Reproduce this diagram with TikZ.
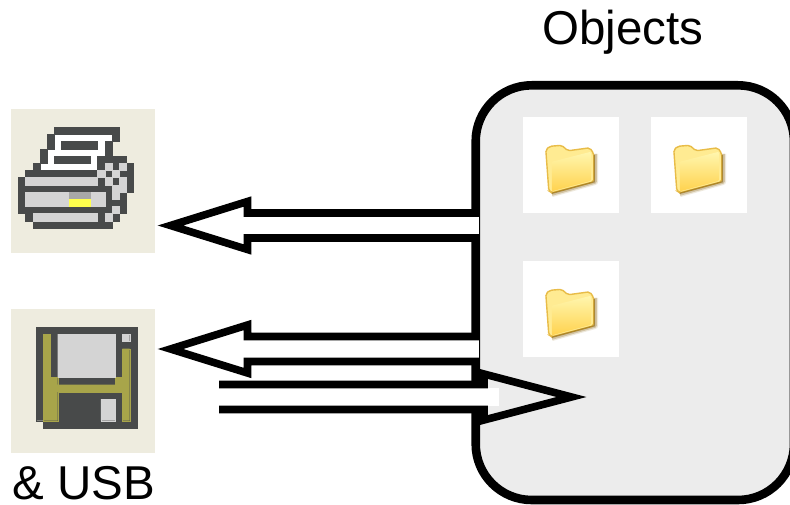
\documentclass[tikz,border=0pt]{standalone}
\usepackage{fontspec}
\setmainfont{Liberation Sans}
\usepackage{xcolor}
\usetikzlibrary{calc}

\definecolor{pxbg}{HTML}{EEECDF}
\definecolor{pxdark}{HTML}{484A4A}
\definecolor{pxlight}{HTML}{D4D4D4}
\definecolor{pxgray}{HTML}{A8A8A8}
\definecolor{pxyellow}{HTML}{FFFF4D}
\definecolor{pxolive}{HTML}{A8A54A}
\definecolor{boxgray}{HTML}{ECECEC}
\definecolor{foldertop}{HTML}{FFF6AE}
\definecolor{folderlow}{HTML}{FFD24E}
\definecolor{folderback}{HTML}{FFEB92}
\definecolor{folderedge}{HTML}{E8BC48}
\definecolor{foldershade}{HTML}{8A6410}

\tikzset{
    px/.style={fill=#1, draw=#1, line width=0.15pt},
    folder/.pic={
        % soft shadow first, then the back and the front of the folder
        \draw[foldershade, opacity=0.14, line width=6.5pt, line join=round] (29,77) -- (72,65) -- (72,37);
        \draw[foldershade, opacity=0.28, line width=4pt, line join=round] (29,77) -- (72,65) -- (72,37);
        \filldraw[fill=folderback, draw=folderedge, line width=1.4pt, rounded corners=2pt]
            (23,33) -- (27,29.5) -- (39,28.5) -- (45,34) -- (67,31) -- (71,37) -- (71,65) -- (29,76) -- (26,74) -- cycle;
        \shade[top color=foldertop, bottom color=folderlow, rounded corners=1pt]
            (29,45) -- (68,35) -- (68,64) -- (29,74.5) -- cycle;
        \draw[foldershade, opacity=0.6, line width=1.4pt] (29,76.5) -- (71.5,65) -- (71.5,38);
    }
}

\newcommand{\hollowarrow}[4]{%
    \coordinate (back) at ($(#2)!#3!(#1)$);
    \coordinate (over) at ($(back)!-15pt!(#1)$);
    \fill[white] ($(#1)!9pt!90:(#2)$) -- ($(over)!9pt!90:(#2)$) -- ($(over)!9pt!-90:(#2)$) -- ($(#1)!9pt!-90:(#2)$) -- cycle;
    \draw[line width=7.6pt] ($(#1)!12.5pt!90:(#2)$) -- ($(back)!12.5pt!90:(#2)$) -- ($(back)!#4!90:(#2)$)
        -- (#2) -- ($(back)!#4!-90:(#2)$) -- ($(back)!12.5pt!-90:(#2)$) -- ($(#1)!12.5pt!-90:(#2)$);
}

\begin{document}
\begin{tikzpicture}[
    x=1pt, y=-1pt,
    objectbox/.style={rectangle, draw, line width=8.6pt, fill=boxgray, rounded corners=56pt, minimum width=318.3pt, minimum height=414.7pt},
    tile/.style={rectangle, fill=white, minimum size=96pt, inner sep=0pt},
    icon/.style={rectangle, fill=pxbg, minimum size=144pt, inner sep=0pt},
    caption/.style={inner sep=0pt, font=\fontsize{47.5}{50}\selectfont}
]
    \useasboundingbox (0,0) rectangle (790,505);

    \node [objectbox] (objects) at (634.85,292.65) {};
    \node [tile] (tilea) at (571,165) {};
    \node [tile, right of=tilea, node distance=128pt] (tileb) {};
    \node [tile, below of=tilea, node distance=144pt] (tilec) {};
    \pic at (tilea.north west) {folder};
    \pic at (tileb.north west) {folder};
    \pic at (tilec.north west) {folder};

    \node [icon] (printer) at (83,181) {};
    \node [icon, below of=printer, node distance=200pt] (floppy) {};

    \node [caption, anchor=base] (title) at (623,45) {Objects};
    \node [caption, anchor=base west] (usb) at (12,499) {\& USB};

    % printer, one icon pixel is 7.2 wide
    \begin{scope}[shift={(11,127)}, x=7.2pt, y=-7.2pt]
        \fill[px=white] (5,1) rectangle (14,4) (5,4) rectangle (12,5) (4,5) rectangle (12,6);
        \foreach \a/\r/\b in {6/0/15, 5/1/6, 14/1/15, 5/2/6, 7/2/12, 13/2/14, 4/3/5, 13/3/14, 4/4/5, 6/4/11, 12/4/16,
            3/5/4, 12/5/13, 14/5/15, 16/5/17, 2/6/12, 13/6/14, 15/6/17, 1/7/2, 12/7/13, 14/7/15, 16/7/17,
            1/8/14, 16/8/17, 1/9/2, 13/9/14, 15/9/16, 1/10/2, 13/10/16, 1/11/14, 15/11/16, 2/12/3, 12/12/13, 14/12/15, 3/13/14}
            \fill[px=pxdark] (\a,\r) rectangle (\b,\r+1);
        \foreach \a/\r/\b in {13/5/14, 15/5/16, 12/6/13, 14/6/15, 2/7/12, 13/7/14, 15/7/16, 14/8/16,
            2/9/8, 11/9/13, 14/9/15, 2/10/8, 11/10/13, 14/11/15, 3/12/12, 13/12/14}
            \fill[px=pxlight] (\a,\r) rectangle (\b,\r+1);
        \fill[px=pxgray] (8,9) rectangle (11,10);
        \fill[px=pxyellow] (8,10) rectangle (11,11);
    \end{scope}

    % floppy
    \begin{scope}[shift={(36,327)}, x=7.2pt, y=-7.2pt]
        \fill[px=pxdark] (0,0) rectangle (14,13) (1,13) rectangle (14,14);
        \fill[px=pxolive] (1,1) rectangle (2,7) (1,7) rectangle (3,13) (3,8) rectangle (11,9) (11,7) rectangle (12,9) (12,3) rectangle (13,13);
        \fill[px=pxlight] (3,1) rectangle (11,7) (12,1) rectangle (13,2) (9,10) rectangle (11,13);
    \end{scope}

    \coordinate (printerin) at (170.5,225.5);
    \coordinate (printerout) at (479,225.5);
    \coordinate (floppyin) at (170.5,349);
    \coordinate (floppyout) at (479,349);
    \coordinate (floppyread) at (219,397);
    \coordinate (objectsin) at (571.5,397);

    \hollowarrow{printerout}{printerin}{77pt}{24pt}
    \hollowarrow{floppyout}{floppyin}{77pt}{24pt}
    \hollowarrow{floppyread}{objectsin}{87.5pt}{23pt}
\end{tikzpicture}
\end{document}
